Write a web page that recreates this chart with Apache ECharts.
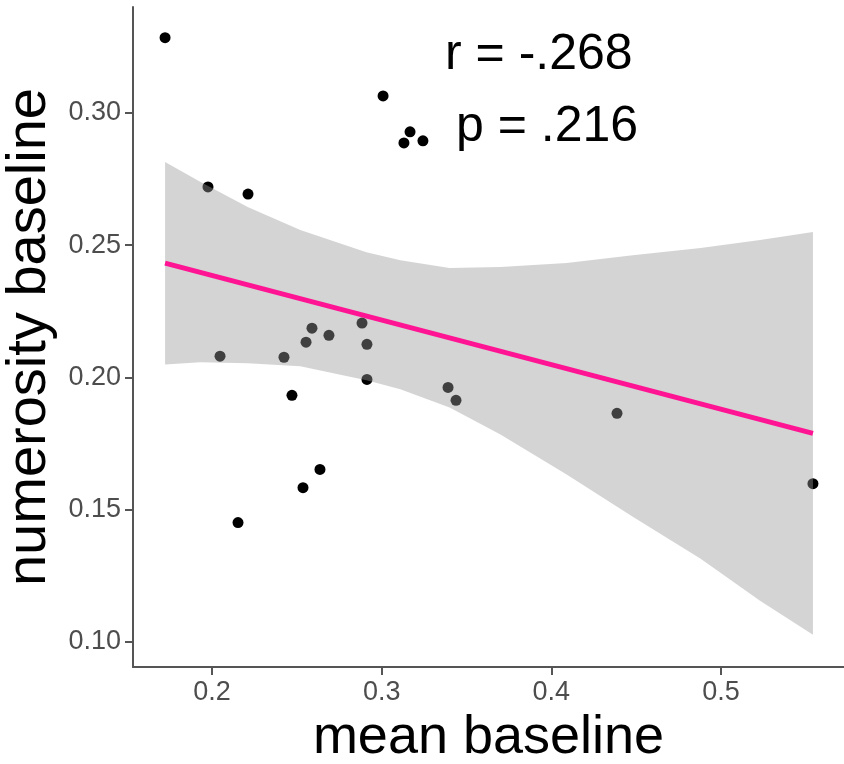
<!DOCTYPE html>
<html>
<head>
<meta charset="utf-8">
<script src="https://cdn.jsdelivr.net/npm/echarts@6/dist/echarts.min.js"></script>
<style>
  html, body { margin: 0; padding: 0; background: #fff; }
  #chart { width: 844px; height: 764px; }
</style>
</head>
<body>
<div id="chart"></div>
<script>
// scatter points (mean baseline, numerosity baseline)
const meanBaseline = [0.1723, 0.1976, 0.2212, 0.3008, 0.3167, 0.3131, 0.3243, 0.2047, 0.2424, 0.2471, 0.2554, 0.2589,
  0.2689, 0.2884, 0.2913, 0.2913, 0.2636, 0.2536, 0.2153, 0.3391, 0.3438, 0.4387, 0.5542];
const numerosityBaseline = [0.3284, 0.2720, 0.2693, 0.3064, 0.2928, 0.2886, 0.2894, 0.2080, 0.2076, 0.1932, 0.2133, 0.2186,
  0.2159, 0.2205, 0.2125, 0.1992, 0.1652, 0.1583, 0.1451, 0.1962, 0.1913, 0.1864, 0.1598];

// fitted line + confidence band
const fitX = [0.1723, 0.5542];
const fitY = [0.2432, 0.1788];
const bandX = [0.1723, 0.193, 0.221, 0.252, 0.291, 0.311, 0.340, 0.370, 0.409, 0.448, 0.488, 0.523, 0.5542];
const bandUpper = [0.2814, 0.2739, 0.2644, 0.2557, 0.2473, 0.2443, 0.2413, 0.2417, 0.2432, 0.2462, 0.2489, 0.2519, 0.2549];
const bandLower = [0.2049, 0.2057, 0.2053, 0.2042, 0.1989, 0.1955, 0.1886, 0.1784, 0.1633, 0.1473, 0.1314, 0.1155, 0.1027];

// tick labels
const xTicks = [0.2, 0.3, 0.4, 0.5];
const yTicks = [0.10, 0.15, 0.20, 0.25, 0.30];

const chart = echarts.init(document.getElementById('chart'));

const axisGray = '#4d4d4d';
const font = 'Liberation Sans, Arial, sans-serif';

const option = {
  animation: false,
  backgroundColor: '#fff',
  grid: { left: 133, right: 0, top: 7, bottom: 97, containLabel: false, outerBoundsMode: 'none' },
  xAxis: {
    type: 'value',
    min: 0.1534,
    max: 0.5725,
    name: 'mean baseline',
    nameLocation: 'middle',
    nameGap: 38,
    nameTextStyle: { fontSize: 54, color: '#000', fontFamily: font },
    splitLine: { show: false },
    axisLine: { show: true, onZero: false, lineStyle: { color: '#555', width: 2 } },
    axisTick: { show: true, length: 8, customValues: xTicks, lineStyle: { color: '#555', width: 2 } },
    axisLabel: {
      customValues: xTicks, margin: 12, fontSize: 27, color: axisGray, fontFamily: font,
      formatter: v => v.toFixed(1)
    }
  },
  yAxis: {
    type: 'value',
    min: 0.0905,
    max: 0.340,
    name: 'numerosity baseline',
    nameLocation: 'middle',
    nameRotate: 90,
    nameGap: 62,
    nameTextStyle: { fontSize: 56, color: '#000', fontFamily: font },
    splitLine: { show: false },
    axisLine: { show: true, onZero: false, lineStyle: { color: '#555', width: 2 } },
    axisTick: { show: true, length: 8, customValues: yTicks, lineStyle: { color: '#555', width: 2 } },
    axisLabel: {
      customValues: yTicks, margin: 12, fontSize: 27, color: axisGray, fontFamily: font,
      formatter: v => v.toFixed(2)
    }
  },
  series: [
    {
      type: 'scatter',
      symbolSize: 11,
      itemStyle: { color: '#000', opacity: 1 },
      data: meanBaseline.map((x, i) => [x, numerosityBaseline[i]]),
      z: 2
    },
    {
      type: 'custom',
      data: [0],
      z: 3,
      renderItem: (params, api) => {
        const pts = [];
        bandX.forEach((x, i) => pts.push(api.coord([x, bandUpper[i]])));
        for (let i = bandX.length - 1; i >= 0; i--) pts.push(api.coord([bandX[i], bandLower[i]]));
        return {
          type: 'polygon',
          shape: { points: pts },
          style: { fill: 'rgba(153,153,153,0.42)', stroke: null }
        };
      }
    },
    {
      type: 'line',
      symbol: 'none',
      z: 4,
      lineStyle: { color: '#ff1493', width: 5 },
      data: fitX.map((x, i) => [x, fitY[i]])
    }
  ],
  graphic: [
    {
      type: 'text', left: 445, top: 30,
      style: { text: 'r = -.268', font: '50px ' + font, fill: '#000' }
    },
    {
      type: 'text', left: 456, top: 102,
      style: { text: 'p = .216', font: '50px ' + font, fill: '#000' }
    }
  ]
};

chart.setOption(option);
</script>
</body>
</html>
